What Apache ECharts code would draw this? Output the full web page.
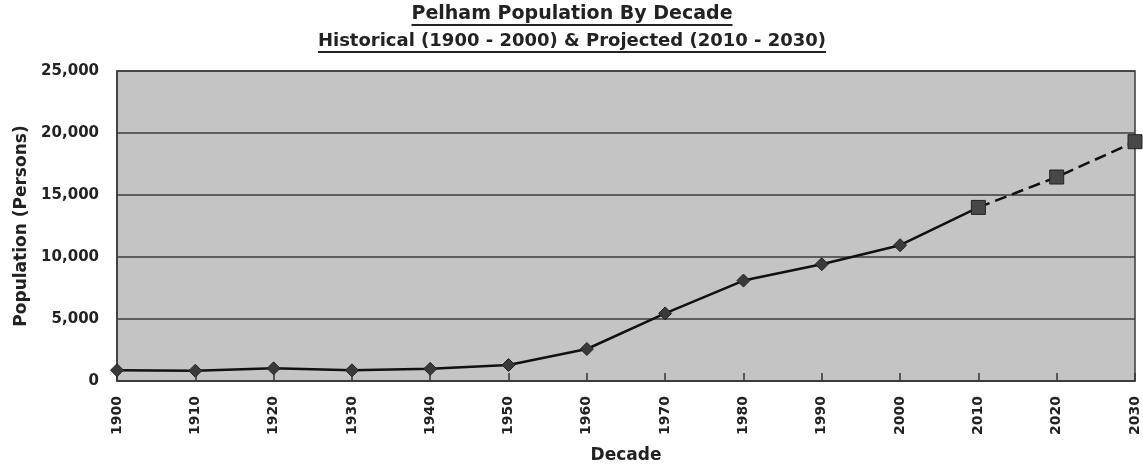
<!DOCTYPE html>
<html>
<head>
<meta charset="utf-8">
<script src="https://cdn.jsdelivr.net/npm/echarts@6/dist/echarts.min.js"></script>
<style>
html,body{margin:0;padding:0;background:#fff;}
#chart{width:1143px;height:470px;}
</style>
</head>
<body>
<div id="chart"></div>
<script>
const titleLines = ['Pelham Population By Decade', 'Historical (1900 - 2000) & Projected (2010 - 2030)'];
const decades = ['1900','1910','1920','1930','1940','1950','1960','1970','1980','1990','2000','2010','2020','2030'];
const historical = [870, 830, 1020, 860, 980, 1290, 2580, 5450, 8100, 9420, 10950];
const projected = [14000, 16450, 19300];
const yTicks = [0, 5000, 10000, 15000, 20000, 25000];

const FONT = '"DejaVu Sans", "Liberation Sans", Arial, sans-serif';
const chart = echarts.init(document.getElementById('chart'), null, {renderer: 'canvas'});

// build series data from the named arrays
const histData = historical.map(v => v).concat([{value: projected[0], symbol: 'none'}]);
while (histData.length < decades.length) histData.push(null);
const projData = decades.map((d, i) => {
  const k = i - historical.length;
  return k >= 0 ? projected[k] : null;
});

// measure title widths for underlines
const mctx = document.createElement('canvas').getContext('2d');
function tw(text, size) {
  mctx.font = 'bold ' + size + 'px ' + FONT;
  return mctx.measureText(text).width;
}
const T_SIZES = [19, 18];
const cx = 572;
const ulY = [25, 52];
const graphics = titleLines.map((t, i) => {
  const w = tw(t, T_SIZES[i]);
  return {
    type: 'line', silent: true,
    shape: {x1: cx - w / 2, y1: ulY[i], x2: cx + w / 2, y2: ulY[i]},
    style: {stroke: '#222', lineWidth: 2}
  };
});
titleLines.forEach((t, i) => {
  graphics.push({
    type: 'text', silent: true,
    x: cx, y: [14, 41][i],
    style: {text: t, font: 'bold ' + T_SIZES[i] + 'px ' + FONT, fill: '#222', align: 'center', verticalAlign: 'middle'}
  });
});

chart.setOption({
  backgroundColor: '#ffffff',
  animation: false,
  graphic: graphics,
  grid: {
    left: 117, right: 8, top: 71, bottom: 89,
    show: true, backgroundColor: '#c4c4c4', borderColor: '#3a3a3a', borderWidth: 1.5
  },
  xAxis: {
    type: 'category',
    data: decades,
    boundaryGap: false,
    name: 'Decade',
    nameLocation: 'middle',
    nameGap: 66,
    nameTextStyle: {fontFamily: FONT, fontWeight: 'bold', fontSize: 17, color: '#222'},
    axisLine: {show: true, lineStyle: {color: '#3a3a3a', width: 1.5}},
    axisTick: {show: true, inside: true, length: 8, lineStyle: {color: '#333', width: 1.5}},
    axisLabel: {rotate: 90, margin: 15, fontFamily: FONT, fontWeight: 'bold', fontSize: 14, color: '#222'},
    splitLine: {show: false}
  },
  yAxis: {
    type: 'value',
    min: yTicks[0], max: yTicks[yTicks.length - 1], interval: yTicks[1] - yTicks[0],
    name: 'Population (Persons)',
    nameLocation: 'middle',
    nameGap: 86,
    nameRotate: 90,
    nameTextStyle: {fontFamily: FONT, fontWeight: 'bold', fontSize: 17, color: '#222'},
    axisLine: {show: true, lineStyle: {color: '#3a3a3a', width: 1.5}},
    axisTick: {show: false},
    axisLabel: {
      margin: 18, fontFamily: FONT, fontWeight: 'bold', fontSize: 15, color: '#222',
      formatter: v => v.toLocaleString('en-US')
    },
    splitLine: {show: true, lineStyle: {color: '#3c3c3c', width: 1.5}}
  },
  series: [
    {
      name: 'Historical', type: 'line', data: histData,
      symbol: 'diamond', symbolSize: 13,
      itemStyle: {color: '#3a3a3a', borderColor: '#222', borderWidth: 1},
      lineStyle: {color: '#111', width: 2.5},
      z: 3
    },
    {
      name: 'Projected', type: 'line', data: projData,
      symbol: 'rect', symbolSize: 14,
      itemStyle: {color: '#484848', borderColor: '#222', borderWidth: 1},
      lineStyle: {color: '#111', width: 2.5, type: [12, 6]},
      z: 4
    }
  ]
});
</script>
</body>
</html>
